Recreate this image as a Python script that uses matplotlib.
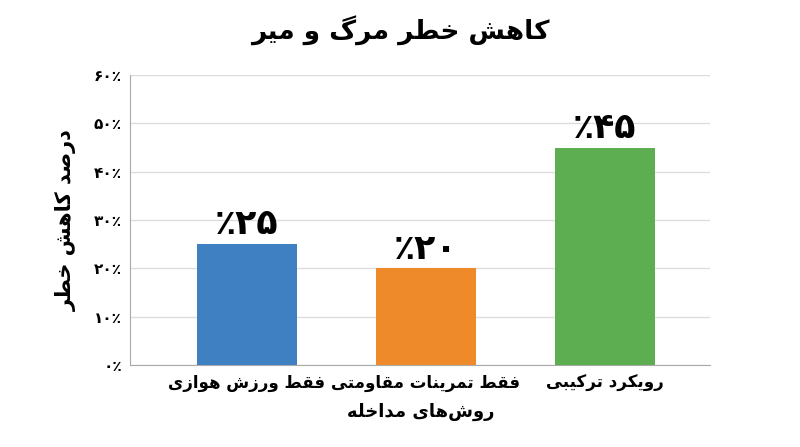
import matplotlib
matplotlib.use("Agg")
import matplotlib.pyplot as plt

# ---- minimal Persian shaper (presentation forms) ----
FORMS = {
    'ا': (0xFE8D, 0xFE8E, None, None), 'ب': (0xFE8F, 0xFE90, 0xFE91, 0xFE92),
    'ت': (0xFE95, 0xFE96, 0xFE97, 0xFE98), 'ح': (0xFEA1, 0xFEA2, 0xFEA3, 0xFEA4),
    'خ': (0xFEA5, 0xFEA6, 0xFEA7, 0xFEA8), 'د': (0xFEA9, 0xFEAA, None, None),
    'ر': (0xFEAD, 0xFEAE, None, None), 'ز': (0xFEAF, 0xFEB0, None, None),
    'ش': (0xFEB5, 0xFEB6, 0xFEB7, 0xFEB8), 'ص': (0xFEB9, 0xFEBA, 0xFEBB, 0xFEBC),
    'ط': (0xFEC1, 0xFEC2, 0xFEC3, 0xFEC4), 'ف': (0xFED1, 0xFED2, 0xFED3, 0xFED4),
    'ق': (0xFED5, 0xFED6, 0xFED7, 0xFED8), 'ل': (0xFEDD, 0xFEDE, 0xFEDF, 0xFEE0),
    'م': (0xFEE1, 0xFEE2, 0xFEE3, 0xFEE4), 'ن': (0xFEE5, 0xFEE6, 0xFEE7, 0xFEE8),
    'ه': (0xFEE9, 0xFEEA, 0xFEEB, 0xFEEC), 'و': (0xFEED, 0xFEEE, None, None),
    'ک': (0xFB8E, 0xFB8F, 0xFB90, 0xFB91), 'گ': (0xFB92, 0xFB93, 0xFB94, 0xFB95),
    'ی': (0xFBFC, 0xFBFD, 0xFBFE, 0xFBFF),
}

def joins_next(c):
    return c in FORMS and FORMS[c][2] is not None

def shape(s):
    out = []
    for i, c in enumerate(s):
        if c not in FORMS:
            if c != '\u200c':
                out.append(c)
            continue
        prev = s[i - 1] if i > 0 else ''
        nxt = s[i + 1] if i + 1 < len(s) else ''
        jp = joins_next(prev)
        jn = joins_next(c) and nxt in FORMS
        iso, fin, ini, med = FORMS[c]
        if jp and jn:
            code = med
        elif jp:
            code = fin
        elif jn:
            code = ini
        else:
            code = iso
        out.append(chr(code))
    return ''.join(out)[::-1]

# ---- data ----
title = "کاهش خطر مرگ و میر"
ylabel = "درصد کاهش خطر"
xlabel = "روش\u200cهای مداخله"
categories = ["فقط ورزش هوازی", "فقط تمرینات مقاومتی", "رویکرد ترکیبی"]
values = [25, 20, 45]
value_labels = ["٪۲۵", "٪۲۰", "٪۴۵"]
yticks = [0, 10, 20, 30, 40, 50, 60]
ytick_labels = ["۰٪", "۱۰٪", "۲۰٪", "۳۰٪", "۴۰٪", "۵۰٪", "۶۰٪"]
colors = ["#3F80C2", "#EE8A2A", "#5CAE50"]

plt.rcParams['font.family'] = ['DejaVu Sans']
fig = plt.figure(figsize=(8, 4.47), dpi=100)
ax = fig.add_axes([0.163, 0.183, 0.725, 0.649])
x = range(len(categories))
ax.bar(x, values, width=0.56, color=colors, zorder=3)
for xi, v, lab in zip(x, values, value_labels):
    ax.text(xi, v + 0.6, lab, ha='center', va='bottom', fontsize=25, fontweight='bold')
ax.set_ylim(0, 60)
ax.set_xlim(-0.65, 2.59)
ax.set_yticks(yticks)
ax.set_yticklabels(ytick_labels, fontsize=11, fontweight='bold')
ax.set_xticks(list(x))
ax.set_xticklabels([shape(c) for c in categories], fontsize=12, fontweight='bold')
ax.yaxis.grid(True, color='#DDDDDD', lw=1, zorder=0)
for s in ['top', 'right']:
    ax.spines[s].set_visible(False)
ax.spines['left'].set_color('#AAAAAA')
ax.spines['bottom'].set_color('#AAAAAA')
ax.tick_params(length=0, pad=6)
ax.set_ylabel(shape(ylabel), fontsize=15, fontweight='bold', labelpad=12)
ax.set_xlabel(shape(xlabel), fontsize=13, fontweight='bold', labelpad=8)
fig.suptitle(shape(title), fontsize=19, fontweight='bold', y=0.965)
fig.savefig("out.png", dpi=100)
